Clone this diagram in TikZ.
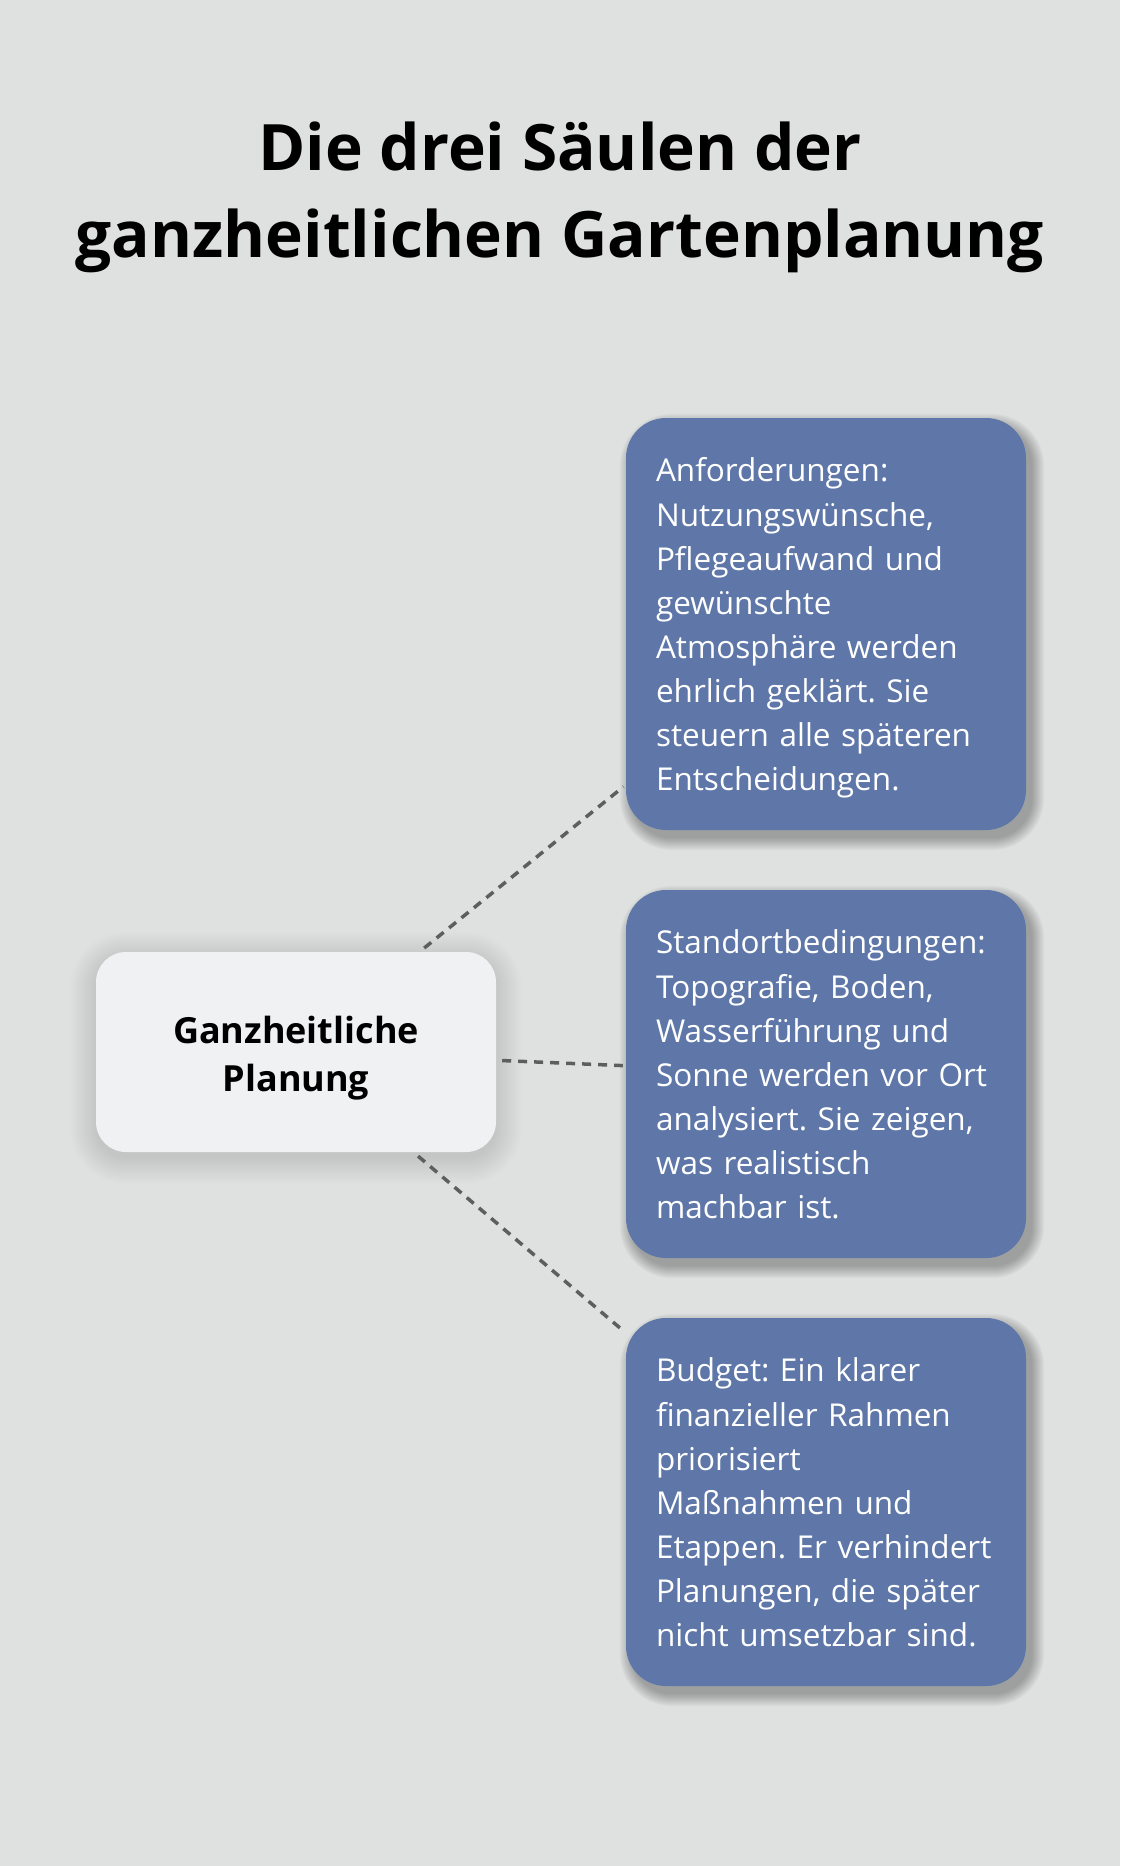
\documentclass[tikz,border=0pt]{standalone}
\usepackage{fontspec}
\setmainfont{Open Sans}
\frenchspacing

\definecolor{bgcol}{HTML}{DFE1E0}
\definecolor{pillarcol}{HTML}{5E77A8}
\definecolor{hubcol}{HTML}{F0F1F3}
\definecolor{linkcol}{HTML}{5E5E5E}

\pgfdeclarelayer{shade}
\pgfsetlayers{shade,main}

% node, dx, dy, steps, radius, opacity
\newcommand{\dropshade}[6]{%
  \foreach \k [evaluate=\k as \r using #5+\k] in {0,...,#4}
    \fill[black, opacity=#6, rounded corners=\r pt]
      ([shift={(#2-\k, #3-\k)}]#1.north west) rectangle ([shift={(#2+\k, #3+\k)}]#1.south east);}

\begin{document}
\begin{tikzpicture}[x=1pt, y=-1pt,
    pillar/.style={fill=pillarcol, rounded corners=40pt, minimum width=400pt,
      text width=340pt, align=left, text=white, inner sep=0pt,
      font=\fontsize{31.5}{44.1}\selectfont,
      execute at begin node={\rule[-9.8pt]{0pt}{44.1pt}},
      execute at end node={\rule[-9.8pt]{0pt}{44.1pt}}},
    hubbox/.style={fill=hubcol, rounded corners=30pt, minimum width=400pt,
      minimum height=200pt, text width=340pt, align=center, inner sep=0pt,
      font=\bfseries\fontsize{36}{48}\selectfont,
      execute at begin node={\rule[-8.4pt]{0pt}{48pt}},
      execute at end node={\rule[-8.4pt]{0pt}{48pt}}},
    link/.style={linkcol, line width=3.5pt, dash pattern=on 9pt off 7pt,
      shorten <=6pt, shorten >=3pt}]
        \useasboundingbox (0, 0) rectangle (1120, 1866);

        \coordinate (C) at (296, 1052);
        \coordinate (R) at (826, 624);
        \coordinate (S) at (826, 1074);
        \coordinate (B) at (826, 1502);

        \node[align=center, font=\bfseries\fontsize{64}{87}\selectfont] (title) at (560, 197)
          {Die drei Säulen der\\ganzheitlichen Gartenplanung};

        \node[hubbox] (hub) at (C) {Ganzheitliche\\Planung};

        \node[pillar, minimum height=412pt] (req) at (R)
          {Anforderungen:\\Nutzungswünsche,\\Pflegeaufwand und\\gewünschte\\Atmosphäre werden\\ehrlich geklärt. Sie\\steuern alle späteren\\Entscheidungen.};
        \node[pillar, minimum height=368pt] (site) at (S)
          {Standortbedingungen:\\Topografie, Boden,\\Wasserführung und\\Sonne werden vor Ort\\analysiert. Sie zeigen,\\was realistisch\\machbar ist.};
        \node[pillar, minimum height=368pt] (budget) at (B)
          {Budget: Ein klarer\\finanzieller Rahmen\\priorisiert\\Maßnahmen und\\Etappen. Er verhindert\\Planungen, die später\\nicht umsetzbar sind.};

        \draw[link] (hub) -- (req);
        \draw[link] (hub) -- (site);
        \draw[link] (hub) -- (budget);

        % page and soft shadows behind the boxes
        \begin{pgfonlayer}{shade}
          \fill[bgcol] (0, 0) rectangle (1120, 1866);
          \dropshade{hub}{0}{6}{26}{30}{0.0045}
          \dropshade{req}{6}{8}{12}{40}{0.025}
          \dropshade{site}{6}{8}{12}{40}{0.025}
          \dropshade{budget}{6}{8}{12}{40}{0.025}
        \end{pgfonlayer}
\end{tikzpicture}
\end{document}
